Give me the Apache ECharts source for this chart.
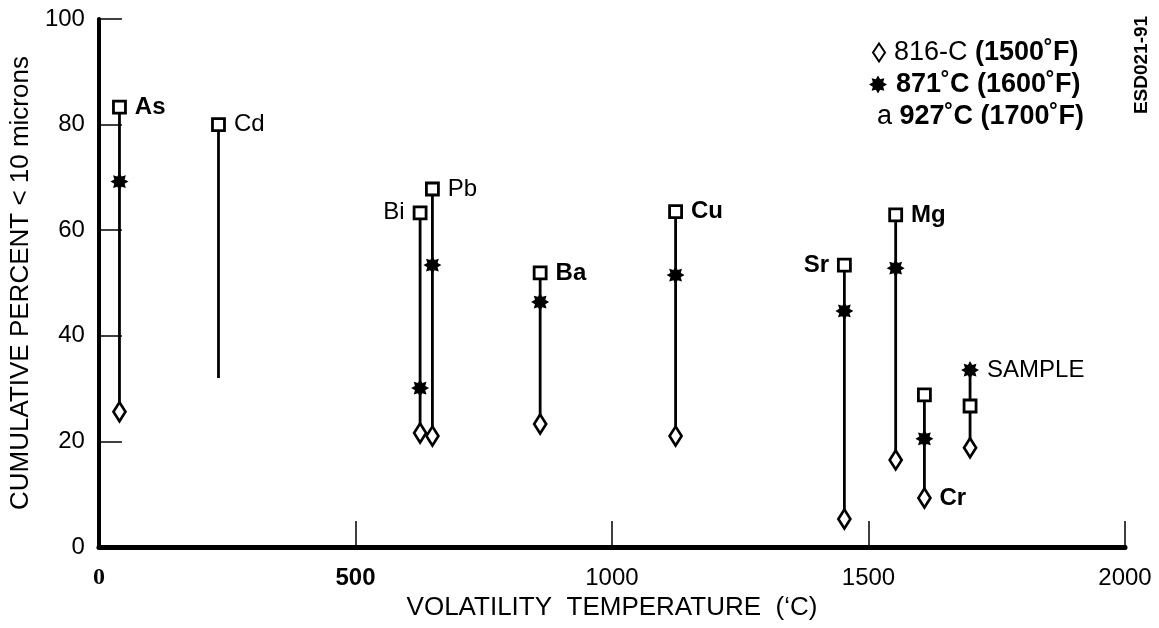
<!DOCTYPE html>
<html>
<head>
<meta charset="utf-8">
<title>Cumulative percent vs volatility temperature</title>
<script src="https://cdn.jsdelivr.net/npm/echarts@6/dist/echarts.min.js"></script>
<style>
  html, body { margin: 0; padding: 0; background: #fff; }
  #main { width: 1159px; height: 628px; }
</style>
</head>
<body>
<div id="main"></div>
<script>
// values
var elements = ['As', 'Cd', 'Bi', 'Pb', 'Ba', 'Cu', 'Sr', 'Mg', 'Cr', 'SAMPLE'];
var volTemp  = [40, 233, 626, 650, 860, 1124, 1453, 1553, 1609, 1698];
var pct816   = [25.6, null, 21.6, 21.0, 23.3, 21.0, 5.3, 16.5, 9.3, 18.8];
var pct871   = [69.2, null, 30.1, 53.4, 46.4, 51.5, 44.7, 52.8, 20.5, 33.5];
var pct927   = [83.3, 80.0, 63.3, 67.8, 51.9, 63.5, 53.4, 62.9, 28.8, 26.7];
var stemLow  = [25.6, 32.0, 21.6, 21.0, 23.3, 21.0, 5.3, 16.5, 9.3, 18.8];
var seriesNames = ['816-C (1500˚F)', '871˚C (1600˚F)', 'a 927˚C (1700˚F)'];

var FONT = '"Liberation Sans", Arial, sans-serif';

// which marker carries the element label (0 = 816, 1 = 871, 2 = 927)
var labelOn = { As: 2, Cd: 2, Bi: 2, Pb: 2, Ba: 2, Cu: 2, Sr: 2, Mg: 2, Cr: 0, SAMPLE: 1 };
var labelLeft = { Bi: 1, Sr: 1 };
var labelBold = { As: 1, Ba: 1, Cu: 1, Sr: 1, Mg: 1, Cr: 1 };

// blobby asterisk used for the 871 C points
function starPath() {
  var pts = [];
  for (var i = 0; i < 16; i++) {
    var a = i * Math.PI / 8;
    var r = i % 2 ? 0.62 : 1;
    pts.push((50 + 50 * r * Math.cos(a)).toFixed(1) + ' ' + (50 + 50 * r * Math.sin(a)).toFixed(1));
  }
  return 'path://M' + pts.join(' L') + ' Z';
}

function points(vals, k) {
  var out = [];
  vals.forEach(function (v, i) {
    if (v == null) return;
    var el = elements[i];
    var item = { value: [volTemp[i], v] };
    if (labelOn[el] === k) {
      item.label = {
        show: true,
        formatter: el,
        position: labelLeft[el] ? 'left' : 'right',
        distance: 8,
        fontWeight: labelBold[el] ? 'bold' : 'normal'
      };
    }
    out.push(item);
  });
  return out;
}

var stemData = elements.map(function (el, i) {
  var vals = [pct816[i], pct871[i], pct927[i]].filter(function (v) { return v != null; });
  return [volTemp[i], stemLow[i], Math.max.apply(null, vals)];
});

var markerLabel = { color: '#000', fontSize: 24, fontFamily: FONT };
var legendText = {
  fontSize: 27, color: '#000', fontFamily: FONT, padding: [0, 0, 0, 4],
  rich: { b: { fontSize: 27, fontWeight: 'bold', fontFamily: FONT } }
};

var chart = echarts.init(document.getElementById('main'));
chart.setOption({
  backgroundColor: '#fff',
  animation: false,
  textStyle: { fontFamily: FONT, color: '#000' },
  grid: { left: 97, right: 34, top: 19, bottom: 81 },
  legend: [
    {
      data: [seriesNames[0]], left: 872, top: 39, padding: 0,
      itemWidth: 12, itemHeight: 18, itemGap: 0,
      formatter: function () { return '816-C {b|(1500˚F)}'; },
      textStyle: legendText
    },
    {
      data: [seriesNames[1]], left: 869, top: 71, padding: 0,
      itemWidth: 18, itemHeight: 18, itemGap: 0,
      formatter: function () { return '{b|871˚C (1600˚F)}'; },
      textStyle: legendText
    },
    {
      data: [{ name: seriesNames[2], icon: 'none' }], left: 868, top: 103, padding: 0,
      itemWidth: 0, itemHeight: 18, itemGap: 0,
      formatter: function () { return 'a {b|927˚C (1700˚F)}'; },
      textStyle: legendText
    }
  ],
  xAxis: [
    {
      type: 'value', min: 0, max: 2000, interval: 500,
      name: 'VOLATILITY  TEMPERATURE  (‘C)', nameLocation: 'middle', nameGap: 44,
      nameTextStyle: { fontSize: 26, color: '#000', fontFamily: FONT },
      axisLine: { lineStyle: { color: '#000', width: 5 } },
      axisTick: { inside: true, length: 26, lineStyle: { color: '#000', width: 1.5 } },
      splitLine: { show: false },
      axisLabel: {
        margin: 19, fontSize: 24, color: '#000',
        formatter: function (v) {
          if (v === 0) return '{z|0}';
          if (v === 500) return '{b|500}';
          return String(v);
        },
        rich: {
          z: { fontFamily: '"Liberation Serif", serif', fontWeight: 'bold', fontSize: 24 },
          b: { fontWeight: 'bold', fontSize: 24 }
        }
      }
    },
    {
      type: 'value', min: 0, max: 2000, position: 'top',
      axisLine: { lineStyle: { color: '#000', width: 4 } },
      axisTick: { show: false }, axisLabel: { show: false }, splitLine: { show: false }
    }
  ],
  yAxis: [
    {
      type: 'value', min: 0, max: 100, interval: 20,
      name: 'CUMULATIVE PERCENT < 10 microns', nameLocation: 'middle', nameGap: 64,
      nameTextStyle: { fontSize: 26, color: '#000', fontFamily: FONT },
      axisLine: { lineStyle: { color: '#000', width: 3 } },
      axisTick: { inside: true, length: 23, lineStyle: { color: '#000', width: 1.5 } },
      splitLine: { show: false },
      axisLabel: { margin: 14, fontSize: 24, color: '#000' }
    },
    {
      type: 'value', min: 0, max: 100, position: 'right',
      axisLine: { lineStyle: { color: '#000', width: 4 } },
      axisTick: { show: false }, axisLabel: { show: false }, splitLine: { show: false }
    }
  ],
  graphic: [
    {
      type: 'text', x: 1142, y: 65, rotation: Math.PI / 2,
      style: { text: 'ESD021-91', fontSize: 19, fontWeight: 'bold', fontFamily: FONT, fill: '#000', align: 'center', verticalAlign: 'middle' }
    }
  ],
  series: [
    {
      name: 'stems',
      type: 'custom',
      silent: true,
      z: 1,
      encode: { x: 0, y: [1, 2] },
      renderItem: function (params, api) {
        var p1 = api.coord([api.value(0), api.value(1)]);
        var p2 = api.coord([api.value(0), api.value(2)]);
        return {
          type: 'line',
          shape: { x1: p1[0], y1: p1[1], x2: p2[0], y2: p2[1] },
          style: { stroke: '#000', lineWidth: 2.8 }
        };
      },
      data: stemData
    },
    {
      name: seriesNames[0],
      type: 'scatter', z: 3,
      symbol: 'diamond', symbolSize: [12, 19],
      itemStyle: { color: '#fff', borderColor: '#000', borderWidth: 2.8, opacity: 1 },
      label: markerLabel,
      data: points(pct816, 0)
    },
    {
      name: seriesNames[1],
      type: 'scatter', z: 3,
      symbol: starPath(), symbolSize: 18,
      itemStyle: { color: '#000', opacity: 1 },
      label: markerLabel,
      data: points(pct871, 1)
    },
    {
      name: seriesNames[2],
      type: 'scatter', z: 3,
      symbol: 'rect', symbolSize: 12,
      itemStyle: { color: '#fff', borderColor: '#000', borderWidth: 2.8, opacity: 1 },
      label: markerLabel,
      data: points(pct927, 2)
    }
  ]
});
</script>
</body>
</html>
